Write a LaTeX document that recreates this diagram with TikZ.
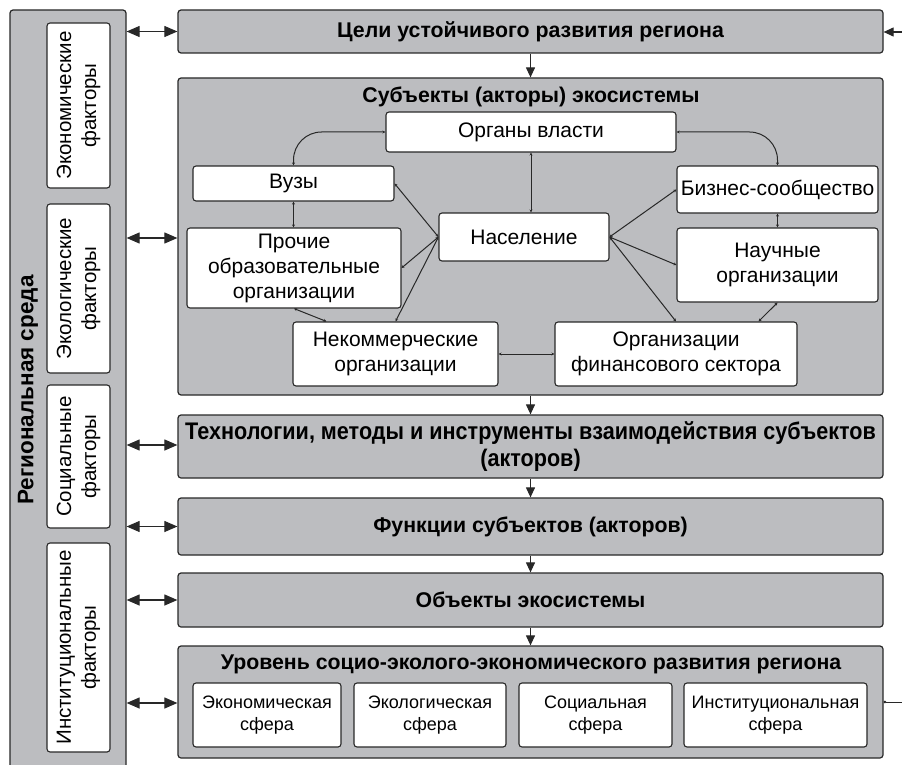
\documentclass[tikz,border=0pt]{standalone}
\usepackage{fontspec}
\setmainfont{Liberation Sans}
\newfontfamily\condfont[FakeStretch=0.9]{Liberation Sans}
\usetikzlibrary{arrows.meta,calc}
\definecolor{boxgrey}{RGB}{188,189,192}
\definecolor{edge}{RGB}{40,40,40}
\begin{document}
\begin{tikzpicture}[x=1pt,y=-1pt,
  greybox/.style={draw=edge,fill=boxgrey,line width=1.2pt,rounded corners=3pt,inner sep=0pt},
  whitebox/.style={draw=edge,fill=white,line width=1.1pt,rounded corners=3pt,inner sep=0pt,align=center,font=\fontsize{21}{25}\selectfont},
  spherebox/.style={whitebox,font=\fontsize{18}{22}\selectfont},
  factorbox/.style={draw=edge,fill=white,line width=1.1pt,rounded corners=3pt,inner sep=0pt},
  factortext/.style={rotate=90,align=center,font=\fontsize{20.5}{25}\selectfont},
  title/.style={font=\fontsize{21.3}{25}\selectfont\bfseries,align=center},
  dbl/.style={line width=1.1pt,draw=edge,{Triangle[length=13pt,width=11pt]}-{Triangle[length=13pt,width=11pt]}},
  down/.style={line width=1.1pt,draw=edge,-{Triangle[length=10pt,width=9pt]}},
  link/.style={line width=1pt,draw=edge,{Stealth[length=3pt,width=3pt]}-{Stealth[length=3pt,width=3pt]}},
  plainlink/.style={line width=1pt,draw=edge}
]
\useasboundingbox (0,0) rectangle (902,765);
% left column
\node[greybox,minimum width=116pt,minimum height=765pt] (env) at (68,392.5) {};
\node[rotate=90,font=\fontsize{22.5}{26}\selectfont\bfseries] (envlabel) at (28,390) {Региональная среда};
\node[factorbox,minimum width=63pt,minimum height=165pt] (f1) at (78.5,105.5) {};
\node[factortext] (f1t) at (f1.center) {Экономические\\факторы};
\node[factorbox,minimum width=63pt,minimum height=169pt] (f2) at (78.5,288.5) {};
\node[factortext] (f2t) at (f2.center) {Экологические\\факторы};
\node[factorbox,minimum width=63pt,minimum height=143pt] (f3) at (78.5,456.5) {};
\node[factortext] (f3t) at (f3.center) {Социальные\\факторы};
\node[factorbox,minimum width=63pt,minimum height=209pt] (f4) at (78.5,647.5) {};
\node[factortext] (f4t) at (f4.center) {Институциональные\\факторы};
% right boxes
\node[greybox,minimum width=705pt,minimum height=43pt] (goals) at (530.5,31.5) {};
\node[title] (goalst) at (goals.center) {Цели устойчивого развития региона};
\node[greybox,minimum width=705pt,minimum height=317pt] (subj) at (530.5,236.5) {};
\node[title] (subjt) at (531,97) {Субъекты (акторы) экосистемы};
\node[greybox,minimum width=705pt,minimum height=63pt] (tech) at (530.5,446.5) {};
\node[align=center,font=\condfont\fontsize{24}{27}\selectfont\bfseries] (techt) at (tech.center) {Технологии, методы и инструменты взаимодействия субъектов\\(акторов)};
\node[greybox,minimum width=705pt,minimum height=57pt] (func) at (530.5,526.5) {};
\node[title] (funct) at (func.center) {Функции субъектов (акторов)};
\node[greybox,minimum width=705pt,minimum height=54pt] (obj) at (530.5,600) {};
\node[title] (objt) at (obj.center) {Объекты экосистемы};
\node[greybox,minimum width=705pt,minimum height=112pt] (lvl) at (530.5,702) {};
\node[title] (lvlt) at (531,664) {Уровень социо-эколого-экономического развития региона};
% spheres
\node[spherebox,minimum width=148pt,minimum height=64pt] (s1) at (267,715) {Экономическая\\сфера};
\node[spherebox,minimum width=152pt,minimum height=64pt] (s2) at (430,715) {Экологическая\\сфера};
\node[spherebox,minimum width=153pt,minimum height=64pt] (s3) at (595.5,715) {Социальная\\сфера};
\node[spherebox,minimum width=183pt,minimum height=64pt] (s4) at (775.5,715) {Институциональная\\сфера};
% actors
\node[whitebox,minimum width=290pt,minimum height=40pt] (ov) at (531,132) {Органы власти};
\node[whitebox,minimum width=201pt,minimum height=35pt] (vuz) at (293.5,183.5) {Вузы};
\node[whitebox,minimum width=214pt,minimum height=80pt] (proch) at (294,268) {Прочие\\образовательные\\организации};
\node[whitebox,minimum width=170pt,minimum height=48pt] (nas) at (524,237) {Население};
\node[whitebox,minimum width=205pt,minimum height=64pt] (nek) at (395.5,354) {Некоммерческие\\организации};
\node[whitebox,minimum width=242pt,minimum height=64pt] (fin) at (676,354) {Организации\\финансового сектора};
\node[whitebox,minimum width=201pt,minimum height=47pt] (biz) at (777.5,189.5) {Бизнес-сообщество};
\node[whitebox,minimum width=201pt,minimum height=74pt] (nauch) at (777.5,265) {Научные\\организации};
% actor links
\draw[link,rounded corners=28pt] (ov.west) -| (vuz.north);
\draw[link,rounded corners=28pt] (ov.east) -| (biz.north);
\draw[link] (ov.south) -- (ov.south |- nas.north);
\draw[link] (vuz.south) -- (vuz.south |- proch.north);
\draw[link] (vuz.east) -- (nas.west);
\draw[link] (proch.east) -- (nas.west);
\draw[link] (nek.north) -- (nas.west);
\draw[link] (proch.south) -- ([xshift=34pt]nek.north west);
\draw[link] (nek.east) -- (fin.west);
\draw[link] (nas.east) -- (biz.west);
\draw[link] (nas.east) -- (nauch.west);
\draw[link] (nas.east) -- (fin.north);
\draw[link] (biz.south) -- (nauch.north);
\draw[link] (nauch.south) -- ([xshift=-39pt]fin.north east);
% vertical flow arrows
\draw[down] (goals.south) -- (subj.north);
\draw[down] (subj.south) -- (tech.north);
\draw[down] (tech.south) -- (func.north);
\draw[down] (func.south) -- (obj.north);
\draw[down] (obj.south) -- (lvl.north);
% environment links
\draw[dbl] (env.east |- goals.west) -- (goals.west);
\draw[dbl] (env.east |- 0,238) -- (subj.west |- 0,238);
\draw[dbl] (env.east |- 0,445) -- (tech.west |- 0,445);
\draw[dbl] (env.east |- func.west) -- (func.west);
\draw[dbl] (env.east |- obj.west) -- (obj.west);
\draw[dbl] (env.east |- 0,703) -- (lvl.west |- 0,703);
% feedback loop ends
\coordinate (fbtop) at (905,32);
\coordinate (fbbot) at (905,702);
\draw[down] (fbtop) -- (goals.east |- fbtop);
\draw[plainlink,{Circle[length=2.5pt]}-] (lvl.east |- fbbot) -- (fbbot);
\end{tikzpicture}
\end{document}
